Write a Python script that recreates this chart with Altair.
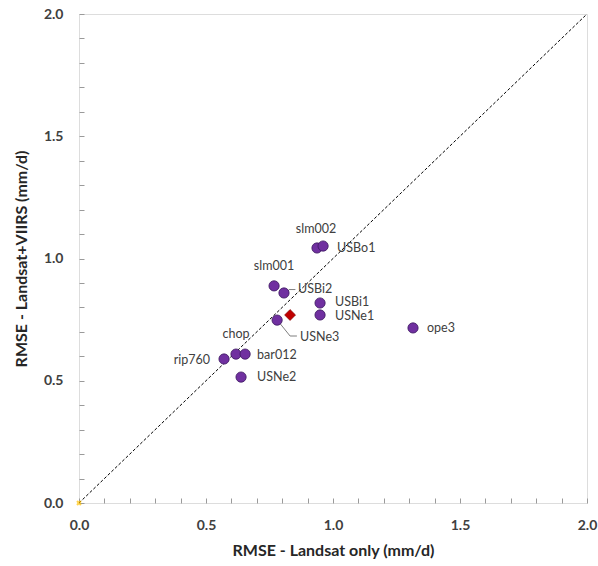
import altair as alt
import pandas as pd
import numpy as np

# ---- data ----
sites = ["slm002", "USBo1", "slm001", "USBi2", "USBi1", "USNe1", "USNe3",
         "ope3", "chop", "rip760", "bar012", "USNe2"]
rmse_landsat = [0.937, 0.961, 0.768, 0.807, 0.949, 0.949, 0.780,
                1.315, 0.618, 0.571, 0.654, 0.638]
rmse_fused = [1.043, 1.051, 0.888, 0.859, 0.818, 0.769, 0.748,
              0.716, 0.609, 0.589, 0.609, 0.515]
mean_x = [0.831]
mean_y = [0.769]
tick_values = [round(v, 1) for v in np.arange(0, 2.01, 0.1)]

# label layout (pixel offsets from the point)
label_layout = {
    "slm002": (-1, -19, "center"),
    "USBo1": (14, 2, "left"),
    "slm001": (0, -20, "center"),
    "USBi2": (14, -4, "left"),
    "USBi1": (15, -1, "left"),
    "USNe1": (15, 1, "left"),
    "USNe3": (23, 17, "left"),
    "ope3": (14, 0, "left"),
    "chop": (0, -20, "center"),
    "rip760": (-14, 1, "right"),
    "bar012": (12, 1, "left"),
    "USNe2": (16, 0, "left"),
}

df = pd.DataFrame({"site": sites, "x": rmse_landsat, "y": rmse_fused})
mean_df = pd.DataFrame({"x": mean_x, "y": mean_y})
diag_df = pd.DataFrame({"x": [0.0, 2.0], "y": [0.0, 2.0]})
origin_df = pd.DataFrame({"x": [0.0], "y": [0.0]})

# leader lines (relative to their points, in data units)
p3 = df[df.site == "USNe3"].iloc[0]
p2 = df[df.site == "USBi2"].iloc[0]
leader_df = pd.DataFrame({
    "g": ["a", "a", "a", "b", "b", "b"],
    "o": [0, 1, 2, 0, 1, 2],
    "x": [p3.x + 0.01, p3.x + 0.051, p3.x + 0.078, p2.x + 0.012, p2.x + 0.02, p2.x + 0.045],
    "y": [p3.y - 0.012, p3.y - 0.065, p3.y - 0.065, p2.y + 0.0, p2.y + 0.014, p2.y + 0.014],
})

FONT = "Lato"
label_expr = "(round(datum.value*10) % 5 == 0) ? format(datum.value, '.1f') : ''"

xscale = alt.Scale(domain=[0, 2], nice=False, zero=False)
yscale = alt.Scale(domain=[0, 2], nice=False, zero=False)

x_axis = alt.Axis(values=tick_values, labelExpr=label_expr, title="RMSE - Landsat only (mm/d)",
                  grid=False, domain=False, offset=-5, tickSize=5, tickColor="#9a9a9a",
                  labelPadding=15, labelFont=FONT, labelFontSize=14, labelFontWeight="bold",
                  labelColor="#404040", titleFont=FONT, titleFontSize=16, titleFontWeight="bold",
                  titleColor="#262626", titlePadding=10, labelFlush=False, labelOverlap=False,
                  labelBound=False)
y_axis = alt.Axis(values=tick_values, labelExpr=label_expr, title="RMSE - Landsat+VIIRS (mm/d)",
                  grid=False, domain=False, offset=-5, tickSize=5, tickColor="#9a9a9a",
                  labelPadding=16, labelFont=FONT, labelFontSize=14, labelFontWeight="bold",
                  labelColor="#404040", titleFont=FONT, titleFontSize=16, titleFontWeight="bold",
                  titleColor="#262626", titlePadding=14, labelFlush=False, labelOverlap=False,
                  labelBound=False)

X = alt.X("x:Q", scale=xscale, axis=x_axis)
Y = alt.Y("y:Q", scale=yscale, axis=y_axis)

diag = alt.Chart(diag_df).mark_line(color="black", strokeDash=[3, 2], strokeWidth=1).encode(
    x=X, y=Y)

origin = alt.Chart(origin_df).mark_point(shape="cross", angle=45, filled=True, color="#FFC000",
                                         size=30).encode(x=X, y=Y)

leaders = alt.Chart(leader_df).mark_line(color="#7f7f7f", strokeWidth=1).encode(
    x=X, y=Y, detail="g:N", order="o:Q")

pts = alt.Chart(df).mark_point(shape="circle", filled=True, size=105, fill="#7030A0",
                               stroke="#3b1660", strokeWidth=0.8, opacity=1).encode(
    x=X, y=Y)

mean_pt = alt.Chart(mean_df).mark_point(shape="diamond", filled=True, size=120, fill="#C00000",
                                        stroke="#7a0000", strokeWidth=0.6, opacity=1).encode(
    x=X, y=Y)

texts = []
for s in sites:
    dx, dy, al = label_layout[s]
    texts.append(
        alt.Chart(df).transform_filter(alt.datum.site == s).mark_text(
            dx=dx, dy=dy, align=al, baseline="middle", font=FONT, fontSize=12.5, color="#404040"
        ).encode(x=X, y=Y, text="site:N")
    )

chart = alt.layer(diag, origin, leaders, pts, mean_pt, *texts).properties(
    width=508, height=489,
    autosize=alt.AutoSizeParams(type="none"),
    padding={"left": 79, "top": 14, "right": 11, "bottom": 63},
).configure_view(stroke="#8c8c8c", strokeWidth=1.5).configure_axis(
    labelOverlap=False
).configure(background="white")

chart.save("out.html", embed_options={"renderer": "svg", "actions": False})
